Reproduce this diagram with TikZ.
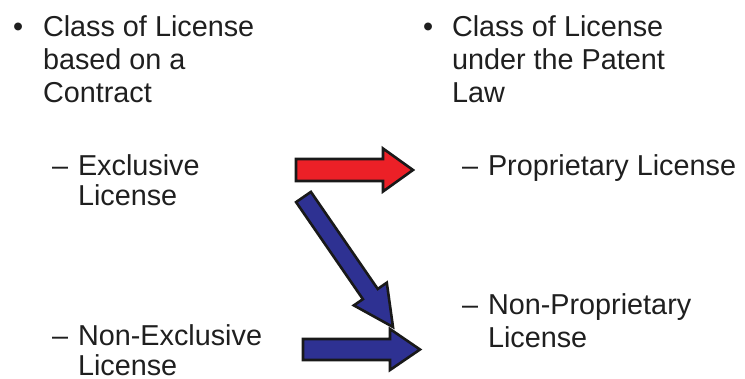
\documentclass[tikz,border=0pt]{standalone}
\usepackage{fontspec}
\setmainfont{Liberation Sans}
\usetikzlibrary{calc}
\definecolor{arrowred}{RGB}{236,32,39}
\definecolor{arrowblue}{RGB}{46,49,146}
% multi-line nodes are anchored at the baseline of their last line
\tikzset{
  txt/.style={anchor=base west, inner sep=0pt, outer sep=0pt, align=left,
    font=\fontsize{28.8}{33}\selectfont, text=black!88},
  subtxt/.style={txt, font=\fontsize{28.8}{30}\selectfont},
  blockarrow/.style={draw=black!90, line width=2.6pt, line join=miter, miter limit=10},
}
% block arrow: style, tail, tip, shaft half width, head half width, head length
\newcommand\blockarr[6]{%
  \coordinate (ba-b) at ($(#3)!#6!(#2)$);
  \filldraw[blockarrow,#1]
    ($(#2)!#4!90:(#3)$) -- ($(ba-b)!#4!90:(#3)$) -- ($(ba-b)!#5!90:(#3)$)
    -- (#3)
    -- ($(ba-b)!#5!-90:(#3)$) -- ($(ba-b)!#4!-90:(#3)$) -- ($(#2)!#4!-90:(#3)$)
    -- cycle;
}
\begin{document}
\begin{tikzpicture}[x=1pt,y=-1pt]
  \useasboundingbox (0,0) rectangle (745,379);

  % headings
  \node[txt] (lb) at (13,37) {•};
  \node[txt] (lhead) at (43,103) {Class of License\\based on a\\Contract};
  \node[txt] (rb) at (423,37) {•};
  \node[txt] (rhead) at (452,103) {Class of License\\under the Patent\\Law};

  % contract classes
  \node[txt] (d1) at (52,176) {–};
  \node[subtxt] (excl) at (78,206) {Exclusive\\License};
  \node[txt] (d2) at (52,346) {–};
  \node[subtxt] (nonexcl) at (78,376) {Non-Exclusive\\License};

  % patent-law classes
  \node[txt] (d3) at (462,176) {–};
  \node[txt] (prop) at (488,176) {Proprietary License};
  \node[txt] (d4) at (462,315) {–};
  \node[txt] (nonprop) at (488,348) {Non-Proprietary\\License};

  % arrow end points
  \coordinate (redtail) at (296,170);
  \coordinate (redtip) at (413,170);
  \coordinate (diagtail) at (303.5,197);
  \coordinate (diagtip) at (393,327);
  \coordinate (bluetail) at (303,349.5);
  \coordinate (bluetip) at (420,349.5);

  \blockarr{fill=arrowred}{redtail}{redtip}{11pt}{21.5pt}{30pt}
  \blockarr{fill=arrowblue}{diagtail}{diagtip}{9pt}{20pt}{40pt}
  \blockarr{fill=arrowblue}{bluetail}{bluetip}{10.5pt}{20.5pt}{30pt}
\end{tikzpicture}
\end{document}
